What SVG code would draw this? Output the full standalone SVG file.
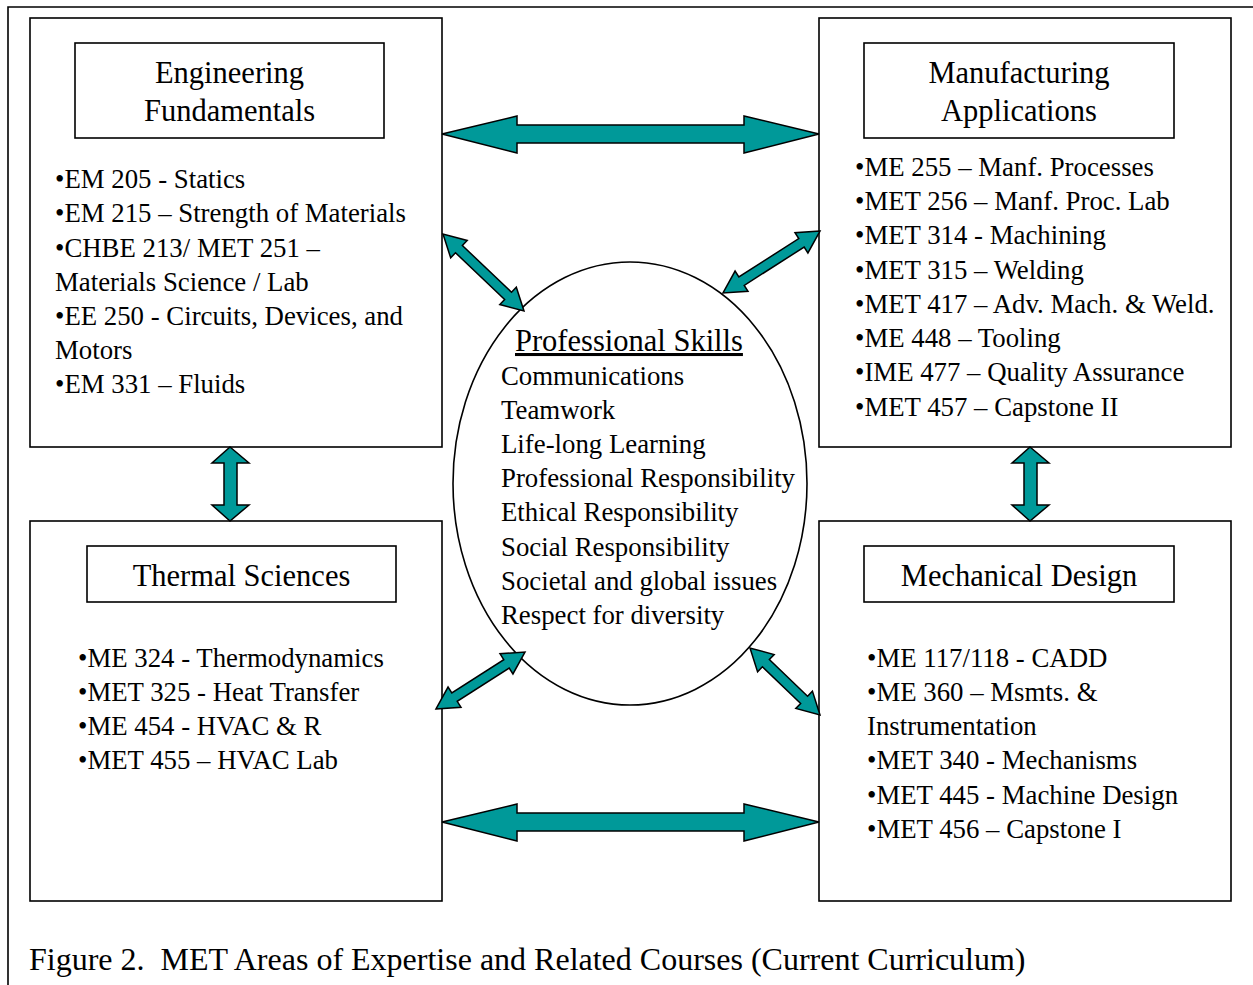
<svg xmlns="http://www.w3.org/2000/svg" width="1253" height="985" viewBox="0 0 1253 985">
<style>
.box{fill:#fff;stroke:#000;stroke-width:1.6}
.t{font-family:"Liberation Serif","Times New Roman",serif;font-size:26.8px;fill:#000}
.h{font-family:"Liberation Serif","Times New Roman",serif;font-size:30.5px;fill:#000}
.cap{font-family:"Liberation Serif","Times New Roman",serif;font-size:32px;fill:#000;white-space:pre}
.arr{fill:#009999;stroke:#000;stroke-width:1.5;stroke-linejoin:miter}
</style>
<rect width="1253" height="985" fill="#fff"/>
<path d="M8,985 V7 H1253" fill="none" stroke="#000" stroke-width="1.6"/>

<g id="engineering-fundamentals">
<rect class="box" x="30" y="18" width="412" height="429"/>
<rect class="box" x="75" y="43" width="309" height="95"/>
<text class="h" x="229.5" y="83" text-anchor="middle">Engineering</text>
<text class="h" x="229.5" y="121" text-anchor="middle">Fundamentals</text>
<text class="t" x="55" y="188">•EM 205 - Statics</text>
<text class="t" x="55" y="222">•EM 215 – Strength of Materials</text>
<text class="t" x="55" y="256.5">•CHBE 213/ MET 251 –</text>
<text class="t" x="55" y="291">Materials Science / Lab</text>
<text class="t" x="55" y="325">•EE 250 - Circuits, Devices, and</text>
<text class="t" x="55" y="359">Motors</text>
<text class="t" x="55" y="393">•EM 331 – Fluids</text>
</g>

<g id="manufacturing-applications">
<rect class="box" x="819" y="18" width="412" height="429"/>
<rect class="box" x="864" y="43" width="310" height="95"/>
<text class="h" x="1019" y="83" text-anchor="middle">Manufacturing</text>
<text class="h" x="1019" y="121" text-anchor="middle">Applications</text>
<text class="t" x="855" y="176">•ME 255 – Manf. Processes</text>
<text class="t" x="855" y="210">•MET 256 – Manf. Proc. Lab</text>
<text class="t" x="855" y="244">•MET 314 - Machining</text>
<text class="t" x="855" y="279">•MET 315 – Welding</text>
<text class="t" x="855" y="313">•MET 417 – Adv. Mach. &amp; Weld.</text>
<text class="t" x="855" y="347">•ME 448 – Tooling</text>
<text class="t" x="855" y="381">•IME 477 – Quality Assurance</text>
<text class="t" x="855" y="416">•MET 457 – Capstone II</text>
</g>

<g id="thermal-sciences">
<rect class="box" x="30" y="521" width="412" height="380"/>
<rect class="box" x="87" y="546" width="309" height="56"/>
<text class="h" x="241.5" y="586" text-anchor="middle">Thermal Sciences</text>
<text class="t" x="78" y="667">•ME 324 - Thermodynamics</text>
<text class="t" x="78" y="701">•MET 325 - Heat Transfer</text>
<text class="t" x="78" y="735">•ME 454 - HVAC &amp; R</text>
<text class="t" x="78" y="769">•MET 455 – HVAC Lab</text>
</g>

<g id="mechanical-design">
<rect class="box" x="819" y="521" width="412" height="380"/>
<rect class="box" x="864" y="546" width="310" height="56"/>
<text class="h" x="1019" y="586" text-anchor="middle">Mechanical Design</text>
<text class="t" x="867" y="667">•ME 117/118 - CADD</text>
<text class="t" x="867" y="701">•ME 360 – Msmts. &amp;</text>
<text class="t" x="867" y="735">Instrumentation</text>
<text class="t" x="867" y="769">•MET 340 - Mechanisms</text>
<text class="t" x="867" y="804">•MET 445 - Machine Design</text>
<text class="t" x="867" y="838">•MET 456 – Capstone I</text>
</g>

<g id="professional-skills">
<ellipse class="box" cx="630" cy="483.5" rx="177" ry="221.5"/>
<text class="h" x="515" y="351" text-decoration="underline">Professional Skills</text>
<text class="t" x="501" y="385">Communications</text>
<text class="t" x="501" y="419">Teamwork</text>
<text class="t" x="501" y="453">Life-long Learning</text>
<text class="t" x="501" y="487">Professional Responsibility</text>
<text class="t" x="501" y="521">Ethical Responsibility</text>
<text class="t" x="501" y="556">Social Responsibility</text>
<text class="t" x="501" y="590">Societal and global issues</text>
<text class="t" x="501" y="624">Respect for diversity</text>
</g>

<g id="connectors">
<polygon class="arr" points="442,134 517,116 517,125 744,125 744,116 819,134 744,153 744,143 517,143 517,153"/>
<polygon class="arr" points="442,822 517,804 517,813 744,813 744,804 819,822 744,841 744,831 517,831 517,841"/>
<polygon class="arr" points="230,447 249,463 237,463 237,505 249,505 230,521 212,505 224,505 224,463 212,463"/>
<polygon class="arr" points="1030,447 1049,463 1037,463 1037,505 1049,505 1030,521 1012,505 1024,505 1024,463 1012,463"/>
<polygon class="arr" points="443,234 450.68,257.84 455.50,252.77 504.62,299.47 499.80,304.54 524,311 516.32,287.16 511.50,292.23 462.38,245.53 467.20,240.46"/>
<polygon class="arr" points="820,231 795.00,232.74 798.77,238.64 738.85,276.94 735.08,271.04 723,293 748.00,291.26 744.23,285.36 804.15,247.06 807.92,252.96"/>
<polygon class="arr" points="436,709 460.99,707.24 457.22,701.35 509.18,668.07 512.95,673.96 525,652 500.01,653.76 503.78,659.65 451.82,692.93 448.05,687.04"/>
<polygon class="arr" points="750,648 757.59,671.88 762.43,666.82 800.65,703.40 795.81,708.46 820,715 812.41,691.12 807.57,696.18 769.35,659.60 774.19,654.54"/>
</g>

<text class="cap" x="29" y="970">Figure 2.  MET Areas of Expertise and Related Courses (Current Curriculum)</text>
</svg>
